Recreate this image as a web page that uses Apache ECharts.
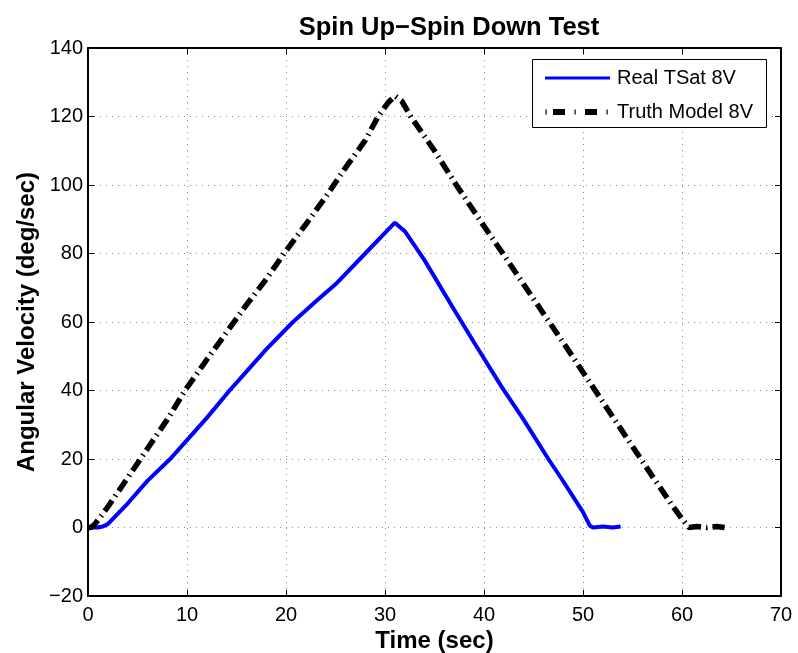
<!DOCTYPE html>
<html>
<head>
<meta charset="utf-8">
<script src="https://cdn.jsdelivr.net/npm/echarts@6/dist/echarts.min.js"></script>
<style>html,body{margin:0;padding:0;background:#fff}#c{width:798px;height:653px}</style>
</head>
<body>
<div id="c"></div>
<script>
const realT   = [0, 1, 1.5, 2, 3, 4, 6, 8.3, 10, 12, 14.3, 16, 18, 20.7, 23, 25, 28, 30, 31, 32, 34, 37, 39, 41.8, 44, 46.5, 48, 50, 50.7, 51, 52, 53, 53.8];
const realV   = [0, 0, 0.3, 1, 4, 7, 13.6, 20, 25.5, 32, 40, 45.5, 52, 60, 66, 71, 80, 86, 89, 86.5, 78, 63.5, 54, 41, 31.5, 20, 13.5, 4.5, 0.5, 0, 0.3, 0, 0.3];
const truthT  = [0, 0.3, 0.7, 2, 4, 6, 8, 9.8, 12, 14, 16, 18, 19.8, 22, 24, 26, 28, 29.3, 30.3, 31, 31.7, 32.6, 35, 37.2, 40, 41.9, 44, 46, 48, 51, 54, 57, 59, 60, 60.7, 61.5, 62.5, 63.5, 64.3];
const truthV  = [0, 0, 1, 6, 14.5, 23, 31.5, 40, 49, 57, 65, 72.5, 80, 88.5, 96.5, 105, 113, 120, 124, 126, 124.5, 120, 110, 100, 88, 80, 71, 62.5, 54, 41, 28, 15, 6.5, 2.5, 0, 0.3, 0, 0.3, 0];
const xTicks = {min: 0, max: 70, step: 10};
const yTicks = {min: -20, max: 140, step: 20};
const seriesNames = ['Real TSat 8V', 'Truth Model 8V'];

const zip = (a, b) => a.map((t, i) => [t, b[i]]);
const chart = echarts.init(document.getElementById('c'), null, {renderer: 'canvas'});
const FONT = 'Liberation Sans, Arial, Helvetica, sans-serif';
const gridLine = {show: true, lineStyle: {color: '#888', type: [1, 5], width: 1}};
const baseAxis = {
  axisLine: {show: true, onZero: false, lineStyle: {color: '#000', width: 2}},
  axisTick: {show: true, inside: true, length: 6, lineStyle: {color: '#000', width: 1}},
  splitLine: {show: false}
};
chart.setOption({
  backgroundColor: '#fff',
  animation: false,
  title: {
    text: 'Spin Up\u2212Spin Down Test', left: 444, top: 10, textAlign: 'center',
    textStyle: {fontFamily: FONT, fontSize: 25.5, fontWeight: 'bold', color: '#000'}
  },
  grid: {left: 88, right: 17, top: 48, bottom: 57, show: false, containLabel: false, outerBoundsMode: 'none'},
  xAxis: [
    Object.assign({}, baseAxis, {
      type: 'value', min: xTicks.min, max: xTicks.max, interval: xTicks.step, position: 'bottom',
      name: 'Time (sec)', nameLocation: 'middle', nameGap: 33, nameMoveOverlap: false,
      nameTextStyle: {fontFamily: FONT, fontSize: 24, fontWeight: 'bold', color: '#000'},
      axisLabel: {fontFamily: FONT, fontSize: 20, color: '#000', margin: 9},
      splitLine: gridLine
    }),
    Object.assign({}, baseAxis, {
      type: 'value', min: xTicks.min, max: xTicks.max, interval: xTicks.step, position: 'top',
      axisLabel: {show: false}
    })
  ],
  yAxis: [
    Object.assign({}, baseAxis, {
      type: 'value', min: yTicks.min, max: yTicks.max, interval: yTicks.step, position: 'left',
      name: 'Angular Velocity (deg/sec)', nameLocation: 'middle', nameGap: 49, nameRotate: 90, nameMoveOverlap: false,
      nameTextStyle: {fontFamily: FONT, fontSize: 24, fontWeight: 'bold', color: '#000'},
      axisLabel: {fontFamily: FONT, fontSize: 20, color: '#000', margin: 5,
        formatter: v => (v < 0 ? '\u2212' + Math.abs(v) : String(v))},
      splitLine: gridLine
    }),
    Object.assign({}, baseAxis, {
      type: 'value', min: yTicks.min, max: yTicks.max, interval: yTicks.step, position: 'right',
      axisLabel: {show: false}
    })
  ],
  graphic: [
    {type: 'rect', shape: {x: 532.5, y: 59.5, width: 234, height: 68}, style: {fill: '#fff', stroke: '#000', lineWidth: 1}, z: 100},
    {type: 'line', shape: {x1: 545, y1: 78, x2: 610, y2: 78}, style: {stroke: '#0000ff', lineWidth: 3}, z: 101},
    {type: 'text', x: 617, y: 78, style: {text: seriesNames[0], font: '20px ' + FONT, fill: '#000', textVerticalAlign: 'middle'}, z: 101},
    {type: 'rect', shape: {x: 553, y: 109, width: 12, height: 6}, style: {fill: '#000'}, z: 101},
    {type: 'rect', shape: {x: 585, y: 109, width: 12, height: 6}, style: {fill: '#000'}, z: 101},
    {type: 'rect', shape: {x: 545.5, y: 109.5, width: 1.2, height: 5}, style: {fill: '#000'}, z: 101},
    {type: 'rect', shape: {x: 574.5, y: 109.5, width: 1.2, height: 5}, style: {fill: '#000'}, z: 101},
    {type: 'rect', shape: {x: 606.5, y: 109.5, width: 1.2, height: 5}, style: {fill: '#000'}, z: 101},
    {type: 'text', x: 617, y: 112, style: {text: seriesNames[1], font: '20px ' + FONT, fill: '#000', textVerticalAlign: 'middle'}, z: 101}
  ],
  series: [
    {
      name: seriesNames[0], type: 'line', data: zip(realT, realV), showSymbol: false, symbol: 'none',
      lineStyle: {color: '#0000ff', width: 4}, itemStyle: {color: '#0000ff'}
    },
    {
      name: seriesNames[1], type: 'line', data: zip(truthT, truthV), showSymbol: false, symbol: 'none',
      lineStyle: {color: '#000', width: 5.5, type: [13, 5, 1.5, 5]}, itemStyle: {color: '#000'}
    }
  ]
});
</script>
</body>
</html>
